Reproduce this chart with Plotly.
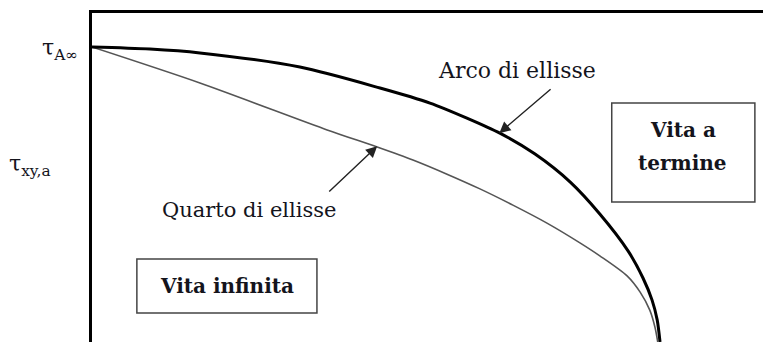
import plotly.graph_objects as go

# Normalised amplitudes: x = sigma_a / sigma_Ainf, y = tau_a / tau_Ainf
quarto_x = [0.0, 0.190, 0.414, 0.502, 0.565, 0.625, 0.683, 0.741, 0.801, 0.859,
            0.894, 0.942, 0.965, 0.982, 0.991, 0.996]
quarto_y = [1.0, 0.878, 0.719, 0.661, 0.617, 0.569, 0.519, 0.464, 0.403, 0.336,
            0.292, 0.224, 0.169, 0.108, 0.051, 0.0]

arco_x = [0.0, 0.102, 0.190, 0.366, 0.507, 0.595, 0.660, 0.718, 0.780, 0.842,
          0.894, 0.944, 0.970, 0.986, 0.995, 1.0]
arco_y = [1.0, 0.993, 0.980, 0.932, 0.861, 0.810, 0.759, 0.708, 0.637, 0.542,
          0.434, 0.308, 0.217, 0.142, 0.075, 0.0]

tau_labels = ["τ<sub>A∞</sub>", "τ<sub>xy,a</sub>"]
curve_names = ["Quarto di ellisse", "Arco di ellisse"]
region_names = ["Vita infinita", "Vita a", "termine"]

SERIF = "DejaVu Serif"
INK = "#14141c"

fig = go.Figure()
fig.add_trace(go.Scatter(x=quarto_x, y=quarto_y, mode="lines",
                         line=dict(color="#555555", width=1.6, shape="spline", smoothing=0.8),
                         name=curve_names[0], hoverinfo="skip"))
fig.add_trace(go.Scatter(x=arco_x, y=arco_y, mode="lines",
                         line=dict(color="#000000", width=3, shape="spline", smoothing=0.8),
                         name=curve_names[1], hoverinfo="skip"))

annotations = [
    # labels beside the tau axis
    dict(text=tau_labels[0], xref="paper", yref="y", x=-0.018, y=0.99,
         xanchor="right", yanchor="middle", showarrow=False,
         font=dict(family=SERIF, size=22, color=INK)),
    dict(text=tau_labels[1], xref="paper", yref="y", x=-0.058, y=0.597,
         xanchor="right", yanchor="middle", showarrow=False,
         font=dict(family=SERIF, size=22, color=INK)),
    # curve labels with pointers
    dict(text=curve_names[1], x=0.748, y=0.922, xanchor="center", yanchor="middle",
         showarrow=False, font=dict(family=SERIF, size=22, color=INK)),
    dict(x=0.717, y=0.708, ax=0.810, ay=0.861, axref="x", ayref="y", text="",
         showarrow=True, arrowhead=2, arrowsize=1.6, arrowwidth=1.4, arrowcolor="#222"),
    dict(text=curve_names[0], x=0.276, y=0.447, xanchor="center", yanchor="middle",
         showarrow=False, font=dict(family=SERIF, size=21, color=INK)),
    dict(x=0.502, y=0.664, ax=0.415, ay=0.505, axref="x", ayref="y", text="",
         showarrow=True, arrowhead=2, arrowsize=1.6, arrowwidth=1.4, arrowcolor="#222"),
    # region labels
    dict(text="<b>" + region_names[0] + "</b>", x=0.238, y=0.190, xanchor="center",
         yanchor="middle", showarrow=False, font=dict(family=SERIF, size=20, color=INK)),
    dict(text="<b>" + region_names[1] + "</b>", x=1.040, y=0.719, xanchor="center",
         yanchor="middle", showarrow=False, font=dict(family=SERIF, size=20, color=INK)),
    dict(text="<b>" + region_names[2] + "</b>", x=1.040, y=0.607, xanchor="center",
         yanchor="middle", showarrow=False, font=dict(family=SERIF, size=20, color=INK)),
]

shapes = [
    dict(type="rect", x0=0.079, x1=0.396, y0=0.098, y1=0.281,
         line=dict(color="#444", width=1.5)),
    dict(type="rect", x0=0.915, x1=1.167, y0=0.475, y1=0.810,
         line=dict(color="#444", width=1.5)),
]

fig.update_layout(
    width=763, height=342,
    margin=dict(l=92, r=0, t=13, b=0),
    paper_bgcolor="white", plot_bgcolor="white",
    showlegend=False,
    annotations=annotations, shapes=shapes,
    xaxis=dict(range=[0, 1.1813], showgrid=False, zeroline=False, showticklabels=False,
               ticks="", showline=True, side="top", linecolor="black", linewidth=3),
    yaxis=dict(range=[0, 1.1153], showgrid=False, zeroline=False, showticklabels=False,
               ticks="", showline=True, linecolor="black", linewidth=3),
)

fig.write_html("out.html", config={"displayModeBar": False})
